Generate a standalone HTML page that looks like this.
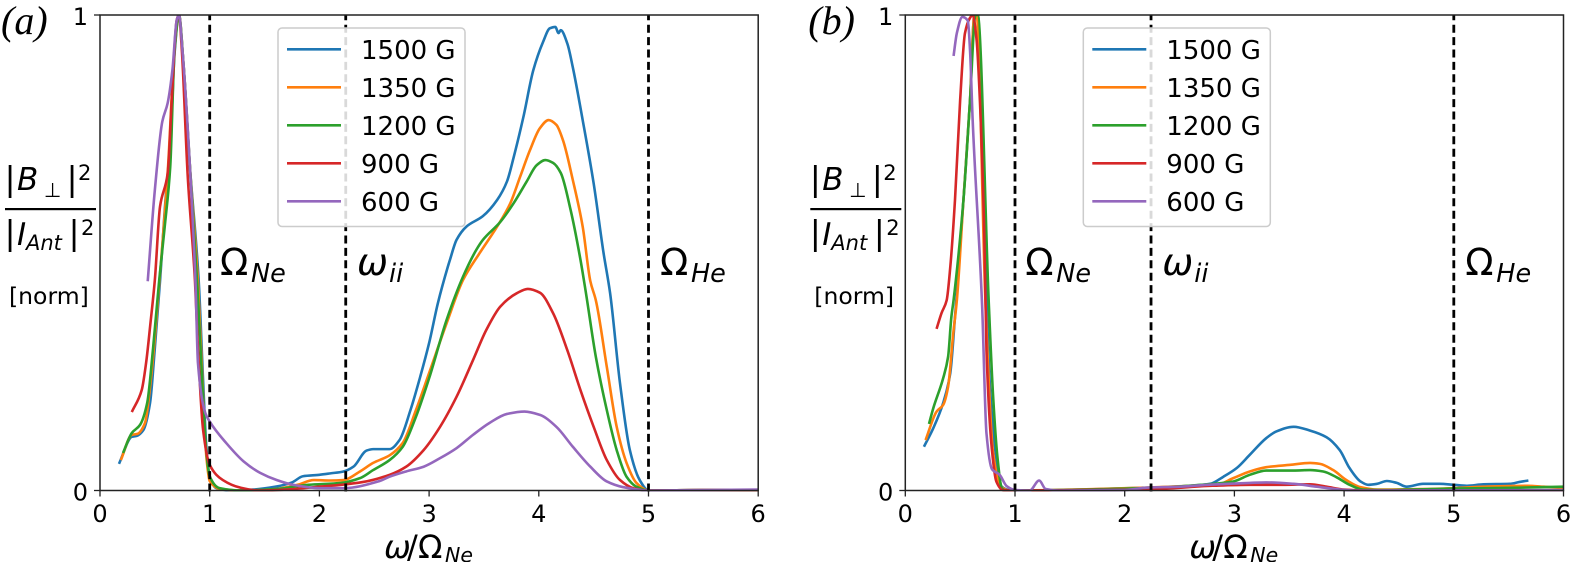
<!DOCTYPE html>
<html>
<head>
<meta charset="utf-8">
<title>Normalized wave spectra</title>
<style>
html,body{margin:0;padding:0;background:#fff;width:1570px;height:562px;overflow:hidden}
svg{display:block}
text{font-family:"DejaVu Sans",sans-serif;fill:#000}
.it{font-style:italic}
.ser{font-family:"Liberation Serif",serif;font-style:italic}
</style>
</head>
<body>
<svg id="fig" xmlns="http://www.w3.org/2000/svg" width="1570" height="562" viewBox="0 0 1570 562"></svg>
<script>
const xTicks = [0, 1, 2, 3, 4, 5, 6];
const yTicks = [0, 1];
const markerNames = ['Ne', 'ii', 'He'];
const markerValues = [1, 2.24, 5];
const seriesLabels = ['1500 G', '1350 G', '1200 G', '900 G', '600 G'];
const seriesColors = ['#1f77b4', '#ff7f0e', '#2ca02c', '#d62728', '#9467bd'];

const aX1500 = [0.173,0.29,0.335,0.395,0.456,0.5,0.547,0.6,0.64,0.68,0.72,0.76,0.82,0.9,0.94,0.97,1,1.06,1.2,1.4,1.6,1.75,1.85,2,2.1,2.22,2.31,2.43,2.49,2.52,2.64,2.73,2.83,2.92,3,3.08,3.17,3.19,3.25,3.34,3.49,3.62,3.71,3.77,3.86,3.95,4.04,4.1,4.15,4.18,4.2,4.26,4.31,4.4,4.5,4.59,4.65,4.74,4.83,4.92,5,5.5,6];
const aY1500 = [0.056,0.113,0.115,0.127,0.184,0.3,0.44,0.62,0.72,0.92,1,0.9,0.68,0.44,0.23,0.09,0.03,0.005,0,0.002,0.008,0.017,0.03,0.033,0.036,0.04,0.05,0.084,0.087,0.087,0.087,0.106,0.169,0.24,0.31,0.394,0.47,0.485,0.527,0.555,0.577,0.611,0.65,0.7,0.786,0.884,0.944,0.972,0.975,0.962,0.968,0.94,0.89,0.779,0.646,0.5,0.415,0.226,0.085,0.022,0,0.001,0.001];
const aX1350 = [0.19,0.29,0.34,0.41,0.47,0.53,0.62,0.68,0.72,0.76,0.82,0.895,0.94,0.97,1,1.1,1.3,1.6,1.8,1.95,2.1,2.22,2.37,2.49,2.64,2.76,2.88,3,3.16,3.31,3.46,3.62,3.74,3.83,3.92,4.01,4.09,4.16,4.22,4.31,4.4,4.47,4.52,4.62,4.71,4.8,4.89,5,5.5,6];
const aY1350 = [0.064,0.117,0.119,0.142,0.247,0.407,0.68,0.93,1,0.9,0.68,0.43,0.2,0.07,0.02,0.003,0,0.003,0.012,0.022,0.021,0.022,0.04,0.058,0.074,0.1,0.169,0.247,0.352,0.443,0.499,0.555,0.604,0.66,0.716,0.762,0.779,0.769,0.737,0.653,0.555,0.44,0.4,0.26,0.134,0.058,0.016,0,0.001,0.001];
const aX1200 = [0.21,0.29,0.365,0.43,0.485,0.54,0.59,0.64,0.68,0.72,0.76,0.82,0.89,0.94,0.97,1,1.09,1.3,1.6,1.9,2.2,2.37,2.49,2.64,2.76,2.88,3,3.16,3.31,3.43,3.49,3.65,3.77,3.89,3.98,4.06,4.13,4.2,4.29,4.38,4.43,4.52,4.62,4.71,4.8,4.89,5,5.5,6];
const aY1200 = [0.079,0.121,0.138,0.184,0.302,0.443,0.555,0.68,0.926,1,0.9,0.68,0.42,0.19,0.08,0.03,0.005,0,0.003,0.012,0.016,0.026,0.043,0.064,0.092,0.155,0.236,0.359,0.45,0.506,0.527,0.565,0.604,0.65,0.684,0.695,0.689,0.668,0.59,0.485,0.415,0.281,0.169,0.085,0.029,0.008,0,0.001,0.001];
const aX900 = [0.29,0.38,0.42,0.46,0.5,0.547,0.617,0.654,0.7,0.72,0.745,0.8,0.866,0.893,0.94,1,1.12,1.28,1.45,1.7,2,2.2,2.4,2.64,2.79,2.95,3.1,3.25,3.4,3.52,3.65,3.8,3.9,4.01,4.13,4.26,4.38,4.5,4.62,4.74,4.86,5,5.5,6];
const aY900 = [0.165,0.211,0.268,0.352,0.443,0.597,0.667,0.821,0.99,1,0.93,0.66,0.44,0.3,0.127,0.054,0.022,0.006,0,0.002,0.008,0.012,0.018,0.033,0.05,0.085,0.134,0.197,0.274,0.337,0.387,0.415,0.424,0.416,0.373,0.295,0.211,0.134,0.064,0.022,0.005,0,0.001,0.001];
const aX600 = [0.435,0.5,0.568,0.617,0.66,0.7,0.72,0.75,0.82,0.87,0.893,0.96,1,1.15,1.31,1.46,1.61,1.76,2,2.22,2.55,2.64,2.79,2.95,3.1,3.25,3.4,3.55,3.71,3.87,4.01,4.16,4.31,4.47,4.62,4.77,5,5.5,6];
const aY600 = [0.44,0.632,0.776,0.815,0.884,0.99,1,0.93,0.68,0.44,0.268,0.163,0.145,0.1,0.061,0.037,0.022,0.012,0.005,0.005,0.02,0.029,0.04,0.05,0.068,0.089,0.117,0.142,0.161,0.166,0.159,0.134,0.092,0.05,0.019,0.007,0,0.001,0.002];

const bX1500 = [0.17,0.255,0.345,0.41,0.453,0.47,0.53,0.59,0.63,0.66,0.74,0.77,0.82,0.88,0.95,1.1,2.2,2.6,2.78,2.9,3.02,3.14,3.29,3.38,3.54,3.69,3.84,3.96,4.05,4.15,4.22,4.3,4.39,4.48,4.57,4.72,4.87,5,5.12,5.27,5.51,5.6,5.68];
const bY1500 = [0.092,0.131,0.184,0.247,0.365,0.415,0.611,0.821,1,1,0.4,0.226,0.085,0.008,0.001,0,0.006,0.01,0.014,0.029,0.047,0.075,0.11,0.124,0.134,0.126,0.112,0.085,0.047,0.019,0.012,0.014,0.02,0.016,0.008,0.014,0.014,0.012,0.01,0.013,0.014,0.018,0.021];
const bX1350 = [0.185,0.285,0.345,0.39,0.437,0.47,0.53,0.59,0.63,0.65,0.73,0.8,0.87,0.95,2.2,2.6,2.84,2.99,3.14,3.29,3.51,3.69,3.78,3.9,4.02,4.15,4.3,4.7,5,5.27,5.67,5.82,6];
const bY1350 = [0.106,0.166,0.18,0.218,0.33,0.4,0.611,0.82,1,1,0.4,0.08,0.008,0,0.006,0.01,0.012,0.026,0.04,0.049,0.054,0.058,0.056,0.043,0.022,0.007,0.002,0.003,0.005,0.008,0.01,0.008,0.005];
const bX1200 = [0.216,0.255,0.345,0.39,0.42,0.44,0.53,0.59,0.64,0.66,0.76,0.8,0.84,0.88,0.92,2.2,2.7,2.99,3.14,3.29,3.54,3.69,3.81,3.93,4.05,4.17,4.35,5,5.6,6];
const bY1200 = [0.14,0.173,0.236,0.281,0.365,0.4,0.611,0.82,1,1,0.4,0.2,0.07,0.005,0,0.005,0.012,0.019,0.033,0.042,0.042,0.043,0.04,0.028,0.012,0.002,0.001,0.004,0.006,0.008];
const bX900 = [0.285,0.33,0.377,0.41,0.453,0.5,0.544,0.59,0.614,0.65,0.68,0.72,0.74,0.79,0.83,0.89,1,2.2,2.8,3.14,3.44,3.69,3.84,4,4.2,6];
const bY900 = [0.34,0.373,0.4,0.47,0.611,0.821,0.962,0.994,1,0.947,0.82,0.54,0.295,0.085,0.019,0.001,0,0.002,0.01,0.012,0.012,0.013,0.008,0.002,0,0];
const bX600 = [0.44,0.47,0.52,0.57,0.59,0.614,0.7,0.74,0.79,0.86,0.925,1,1.135,1.22,1.28,1.4,2,2.2,2.5,2.75,3.14,3.29,3.54,3.75,3.96,4.1,6];
const bY600 = [0.914,0.962,0.996,0.988,0.926,0.779,0.39,0.12,0.045,0.033,0.009,0.001,0,0.021,0.003,0,0.001,0.006,0.008,0.012,0.016,0.017,0.014,0.008,0.002,0,0.001];

const panelASeriesX = [aX1500, aX1350, aX1200, aX900, aX600];
const panelASeriesY = [aY1500, aY1350, aY1200, aY900, aY600];
const panelBSeriesX = [bX1500, bX1350, bX1200, bX900, bX600];
const panelBSeriesY = [bY1500, bY1350, bY1200, bY900, bY600];

const NS = 'http://www.w3.org/2000/svg';
const fig = document.getElementById('fig');

function el(parent, tag, attrs, txt) {
  const e = document.createElementNS(NS, tag);
  for (const k in attrs) e.setAttribute(k, attrs[k]);
  if (txt !== undefined) e.textContent = txt;
  parent.appendChild(e);
  return e;
}

/* Monotone cubic path through the screen-space points of a series */
function smoothPath(px, py) {
  const n = px.length;
  const d = [], m = [];
  for (let i = 0; i < n - 1; i++) d.push((py[i + 1] - py[i]) / (px[i + 1] - px[i]));
  m.push(d[0]);
  for (let i = 1; i < n - 1; i++) {
    if (d[i - 1] * d[i] <= 0) { m.push(0); continue; }
    const h0 = px[i] - px[i - 1], h1 = px[i + 1] - px[i];
    const w0 = 2 * h1 + h0, w1 = h1 + 2 * h0;
    m.push((w0 + w1) / (w0 / d[i - 1] + w1 / d[i]));
  }
  m.push(d[n - 2]);
  let s = 'M' + px[0].toFixed(2) + ' ' + py[0].toFixed(2);
  for (let i = 0; i < n - 1; i++) {
    const h = (px[i + 1] - px[i]) / 3;
    s += 'C' + (px[i] + h).toFixed(2) + ' ' + (py[i] + m[i] * h).toFixed(2) + ' ' +
         (px[i + 1] - h).toFixed(2) + ' ' + (py[i + 1] - m[i + 1] * h).toFixed(2) + ' ' +
         px[i + 1].toFixed(2) + ' ' + py[i + 1].toFixed(2);
  }
  return s;
}

function drawPanel(id, tag, ox, sx, sy) {
  const top = 15, y0 = 490.5, scaleX = 109.7, scaleY = 475.5;
  const xAt = v => ox + v * scaleX;
  const yAt = v => y0 - v * scaleY;
  const g = el(fig, 'g', {});
  
  

  const clip = el(g, 'clipPath', {id: 'clip-' + id});
  el(clip, 'rect', {x: xAt(0), y: top, width: xAt(6) - xAt(0), height: y0 - top + 1});

  seriesLabels.forEach((lab, i) => {
    const d = smoothPath(sx[i].map(xAt), sy[i].map(yAt));
    const line = el(g, 'path', {d: d, fill: 'none', stroke: seriesColors[i], 'stroke-width': 2.6, 'stroke-linejoin': 'round', 'clip-path': 'url(#clip-' + id + ')'});
    
    
  });

  markerValues.forEach((v, i) => {
    const m = el(g, 'line', {x1: xAt(v), x2: xAt(v), y1: y0 + 1, y2: top, stroke: '#000', 'stroke-width': 2.8, 'stroke-dasharray': '8 4.4'});
    
    
  });

  const frame = el(g, 'rect', {x: xAt(0), y: top, width: xAt(6) - xAt(0), height: y0 - top, fill: 'none', stroke: '#222', 'stroke-width': 1.5});
  
  

  xTicks.forEach(v => {
    const t = el(g, 'line', {x1: xAt(v), x2: xAt(v), y1: y0, y2: y0 + 6, stroke: '#222', 'stroke-width': 1.3});
    
    
    const l = el(g, 'text', {x: xAt(v), y: 522, 'font-size': 24, 'text-anchor': 'middle'}, String(v));
    
    
  });
  yTicks.forEach(v => {
    const t = el(g, 'line', {x1: xAt(0) - 6, x2: xAt(0), y1: yAt(v), y2: yAt(v), stroke: '#222', 'stroke-width': 1.3});
    
    
    const l = el(g, 'text', {x: xAt(0) - 12, y: yAt(v) + 10, 'font-size': 24, 'text-anchor': 'end'}, String(v));
    
    
  });

  const legend = el(g, 'g', {});
  
  
  const lx = ox + 178;
  el(legend, 'rect', {x: lx, y: 28, width: 187, height: 198.5, rx: 4, fill: '#fff', 'fill-opacity': 0.85, stroke: '#ccc', 'stroke-width': 1.5});
  seriesLabels.forEach((lab, i) => {
    const yy = 49.3 + i * 38;
    const h = el(legend, 'line', {x1: lx + 9, x2: lx + 63, y1: yy, y2: yy, stroke: seriesColors[i], 'stroke-width': 2.6});
    
    
    const t = el(legend, 'text', {x: lx + 83, y: yy + 9.7, 'font-size': 26}, lab);
    
    
  });

  const ann = (dx, big, sub, subDx, name) => {
    const a = el(g, 'g', {});
    
    
    el(a, 'text', {x: ox + dx, y: 275, 'font-size': 37, class: big === 'ω' ? 'it' : ''}, big);
    el(a, 'text', {x: ox + dx + subDx, y: 282, 'font-size': 25.5, class: 'it'}, sub);
  };
  ann(120, 'Ω', 'Ne', 31, 'label-omega-ne');
  ann(257, 'ω', 'ii', 32, 'label-omega-ii');
  ann(560, 'Ω', 'He', 31, 'label-omega-he');

  const xl = el(g, 'g', {});
  
  
  el(xl, 'text', {x: ox + 284, y: 558, 'font-size': 32, class: 'it'}, 'ω');
  el(xl, 'text', {x: ox + 307, y: 558, 'font-size': 32}, '/');
  el(xl, 'text', {x: ox + 318, y: 558, 'font-size': 32}, 'Ω');
  el(xl, 'text', {x: ox + 345, y: 562, 'font-size': 20.5, class: 'it'}, 'Ne');

  const off = ox - 100;
  const yl = el(g, 'g', {});
  
  
  el(yl, 'text', {x: off + 4.5, y: 190, 'font-size': 33}, '|');
  el(yl, 'text', {x: off + 17, y: 190, 'font-size': 31, class: 'it'}, 'B');
  el(yl, 'text', {x: off + 44, y: 197, 'font-size': 20}, '⊥');
  el(yl, 'text', {x: off + 66.5, y: 190, 'font-size': 33}, '|');
  el(yl, 'text', {x: off + 78, y: 180, 'font-size': 21}, '2');
  el(yl, 'rect', {x: off + 5, y: 208, width: 91, height: 2.2, fill: '#000'});
  el(yl, 'text', {x: off + 4.5, y: 244, 'font-size': 33}, '|');
  el(yl, 'text', {x: off + 17, y: 245, 'font-size': 31, class: 'it'}, 'I');
  el(yl, 'text', {x: off + 26, y: 250, 'font-size': 21, class: 'it'}, 'Ant');
  el(yl, 'text', {x: off + 68.5, y: 244, 'font-size': 33}, '|');
  el(yl, 'text', {x: off + 81, y: 235, 'font-size': 21}, '2');
  el(yl, 'text', {x: off + 9, y: 304, 'font-size': 23.5}, '[norm]');

  const pl = el(g, 'text', {x: off + (id === 'a' ? 1 : 3), y: 34, 'font-size': 40, class: 'ser'}, tag);
  
  
}

drawPanel('a', '(a)', 100, panelASeriesX, panelASeriesY);
drawPanel('b', '(b)', 905.3, panelBSeriesX, panelBSeriesY);
</script>
</body>
</html>
